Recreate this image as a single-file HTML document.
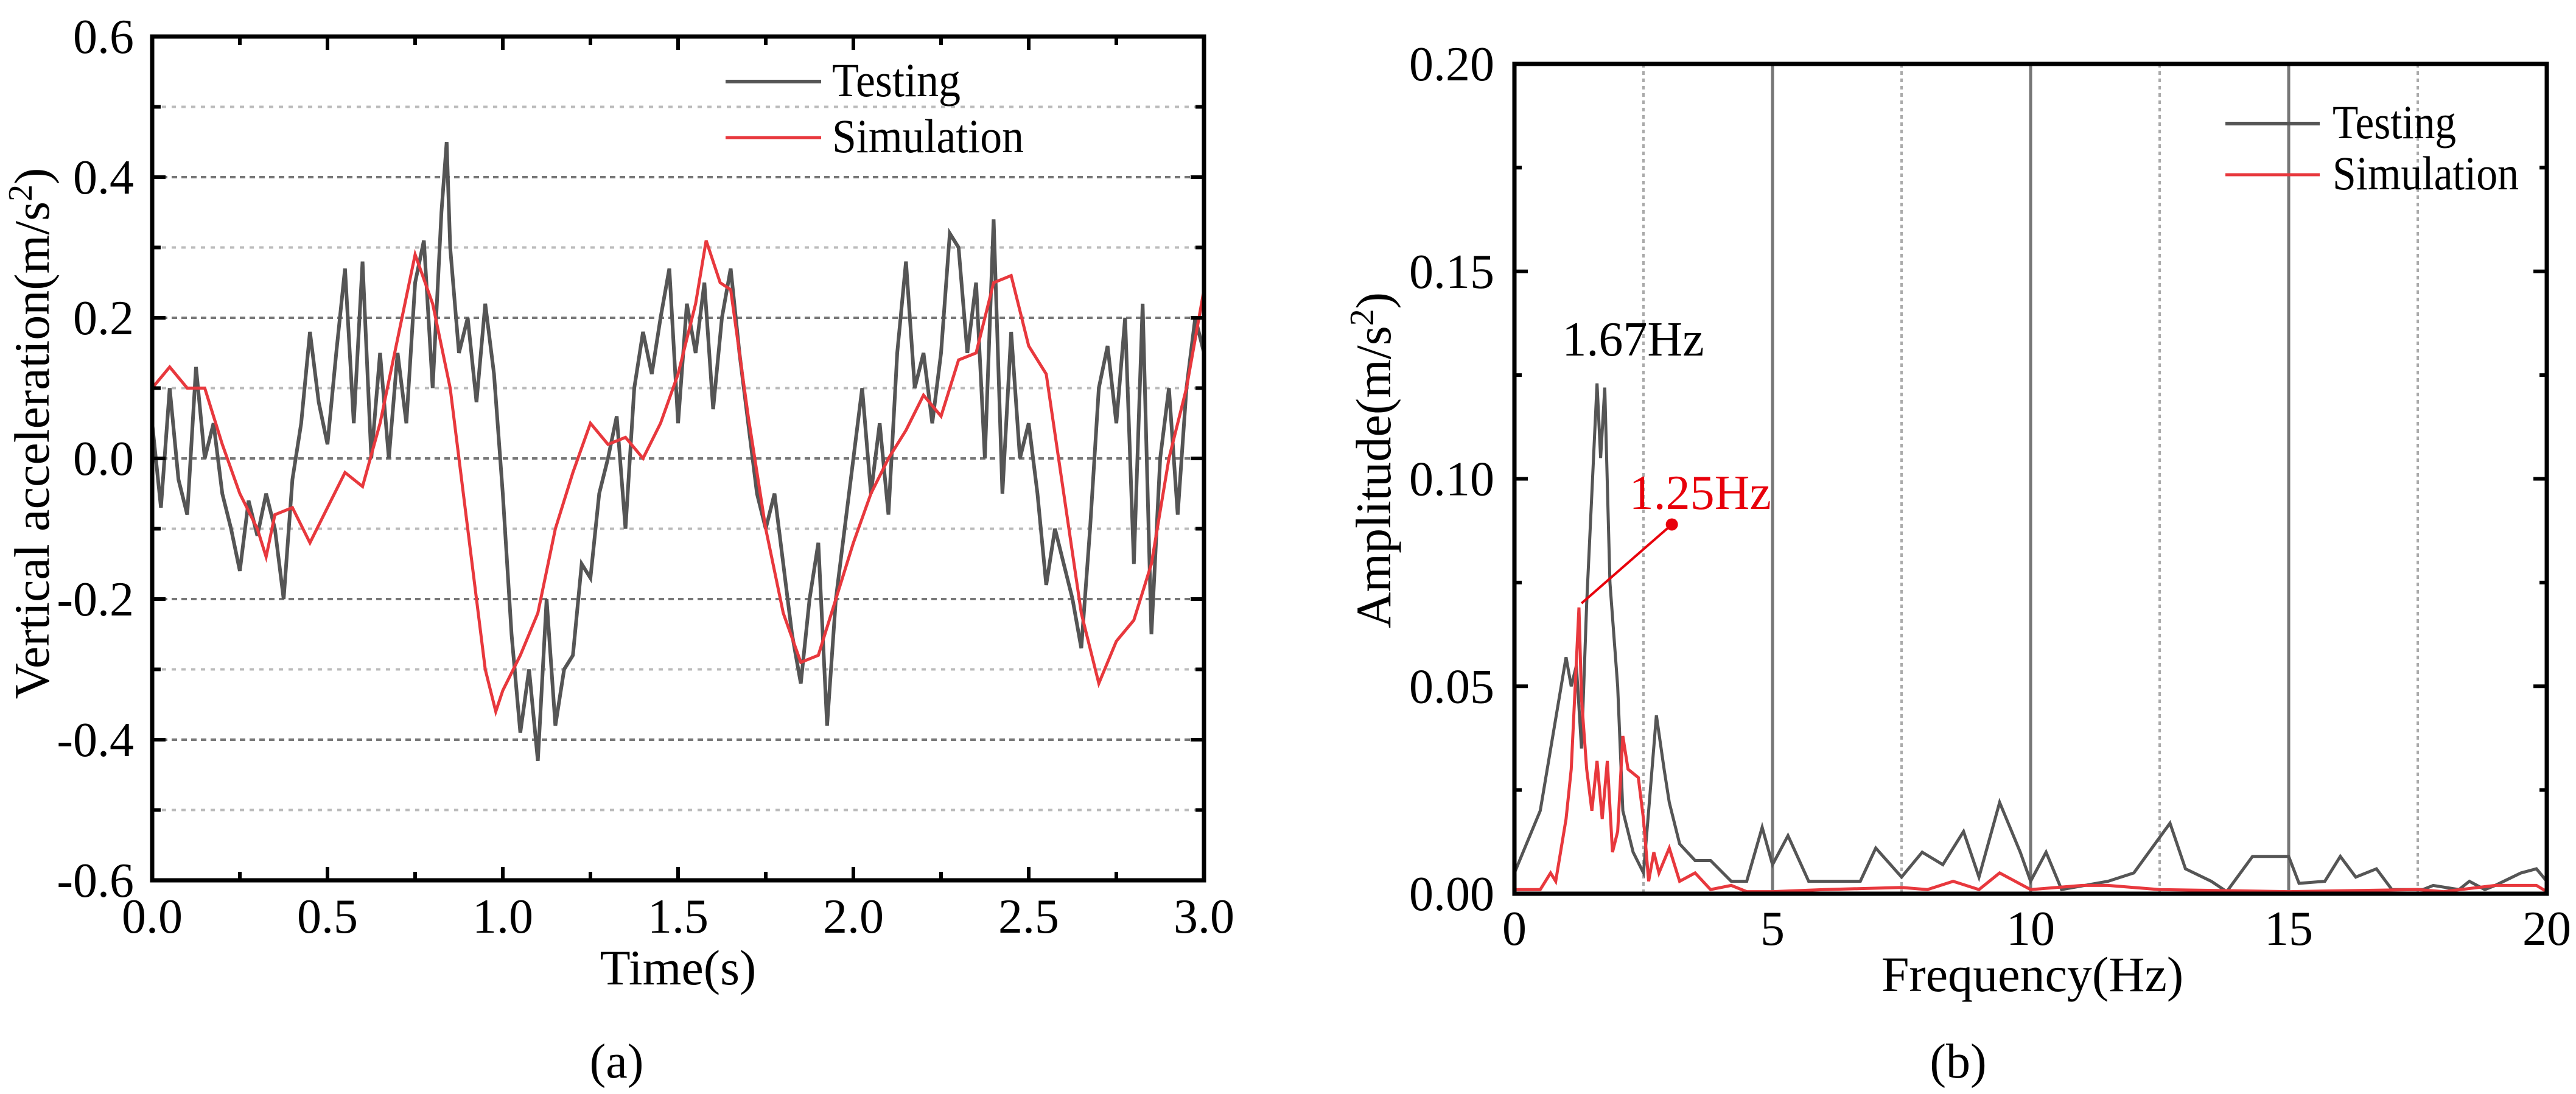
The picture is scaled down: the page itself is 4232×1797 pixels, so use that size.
<!DOCTYPE html>
<html><head><meta charset="utf-8"><style>
html,body{margin:0;padding:0;background:#fff;}
svg{display:block;}
text{font-family:"Liberation Serif",serif;}
</style></head><body>
<svg id="fig" width="4232" height="1797" viewBox="0 0 4232 1797" xmlns="http://www.w3.org/2000/svg"></svg>
<script>
// ---- Chart (a) data ----
const timeA = [0,0.025,0.05,0.075,0.1,0.125,0.15,0.175,0.2,0.225,0.25,0.275,0.3,0.325,0.35,0.375,0.4,0.425,0.45,0.475,0.5,0.525,0.55,0.575,0.6,0.625,0.65,0.675,0.7,0.725,0.75,0.775,0.8,0.825,0.84,0.85,0.875,0.9,0.925,0.95,0.975,1.0,1.025,1.05,1.075,1.1,1.125,1.15,1.175,1.2,1.225,1.25,1.275,1.3,1.325,1.35,1.375,1.4,1.425,1.45,1.475,1.5,1.525,1.55,1.575,1.6,1.625,1.65,1.675,1.7,1.725,1.75,1.775,1.8,1.825,1.85,1.875,1.9,1.925,1.95,1.975,2.0,2.025,2.05,2.075,2.1,2.125,2.15,2.175,2.2,2.225,2.25,2.275,2.3,2.325,2.35,2.375,2.4,2.425,2.45,2.475,2.5,2.525,2.55,2.575,2.6,2.625,2.65,2.675,2.7,2.725,2.75,2.775,2.8,2.825,2.85,2.875,2.9,2.925,2.95,2.975,3.0];
const testingA = [0.05,-0.07,0.10,-0.03,-0.08,0.13,0.00,0.05,-0.05,-0.10,-0.16,-0.06,-0.11,-0.05,-0.10,-0.20,-0.03,0.05,0.18,0.08,0.02,0.15,0.27,0.05,0.28,0.00,0.15,0.00,0.15,0.05,0.25,0.31,0.10,0.35,0.45,0.30,0.15,0.20,0.08,0.22,0.12,-0.05,-0.25,-0.39,-0.30,-0.43,-0.20,-0.38,-0.30,-0.28,-0.15,-0.17,-0.05,0.00,0.06,-0.10,0.10,0.18,0.12,0.20,0.27,0.05,0.22,0.15,0.25,0.07,0.20,0.27,0.15,0.05,-0.05,-0.10,-0.05,-0.15,-0.25,-0.32,-0.20,-0.12,-0.38,-0.20,-0.10,0.00,0.10,-0.05,0.05,-0.08,0.15,0.28,0.10,0.15,0.05,0.15,0.32,0.30,0.15,0.25,0.00,0.34,-0.05,0.18,0.00,0.05,-0.05,-0.18,-0.10,-0.15,-0.20,-0.27,-0.10,0.10,0.16,0.05,0.20,-0.15,0.22,-0.25,0.00,0.10,-0.08,0.10,0.20,0.15];
const timeSim = [0,0.05,0.1,0.15,0.2,0.25,0.3,0.325,0.35,0.4,0.45,0.5,0.55,0.6,0.65,0.7,0.75,0.8,0.85,0.9,0.95,0.98,1.0,1.05,1.1,1.15,1.2,1.25,1.3,1.35,1.4,1.45,1.5,1.55,1.58,1.62,1.65,1.7,1.75,1.8,1.85,1.9,1.95,2.0,2.05,2.1,2.15,2.2,2.25,2.3,2.35,2.4,2.45,2.5,2.55,2.6,2.65,2.7,2.75,2.8,2.85,2.9,2.95,3.0];
const simulationA = [0.10,0.13,0.10,0.10,0.02,-0.05,-0.10,-0.14,-0.08,-0.07,-0.12,-0.07,-0.02,-0.04,0.05,0.17,0.29,0.22,0.10,-0.10,-0.30,-0.36,-0.33,-0.28,-0.22,-0.10,-0.02,0.05,0.02,0.03,0.00,0.05,0.12,0.22,0.31,0.25,0.24,0.06,-0.10,-0.22,-0.29,-0.28,-0.20,-0.12,-0.05,0.00,0.04,0.09,0.06,0.14,0.15,0.25,0.26,0.16,0.12,-0.05,-0.22,-0.32,-0.26,-0.23,-0.15,0.00,0.10,0.24];
const xTicksA = ["0.0","0.5","1.0","1.5","2.0","2.5","3.0"];
const yTicksA = ["-0.6","-0.4","-0.2","0.0","0.2","0.4","0.6"];
// ---- Chart (b) data ----
const freqT = [0,0.5,1.0,1.1,1.2,1.3,1.4,1.6,1.67,1.75,1.85,2.0,2.1,2.3,2.5,2.6,2.75,2.9,3.0,3.2,3.5,3.8,4.2,4.5,4.8,5.0,5.3,5.7,6.2,6.7,7.0,7.5,7.9,8.3,8.7,9.0,9.4,9.8,10.0,10.3,10.6,11.5,12.0,12.7,13.0,13.5,13.8,14.3,15.0,15.2,15.7,16.0,16.3,16.7,17.0,17.6,17.8,18.3,18.5,18.8,19.0,19.5,19.8,20];
const testingB = [0.005,0.02,0.057,0.05,0.055,0.035,0.07,0.123,0.105,0.122,0.075,0.05,0.02,0.01,0.005,0.02,0.043,0.03,0.022,0.012,0.008,0.008,0.003,0.003,0.016,0.007,0.014,0.003,0.003,0.003,0.011,0.004,0.010,0.007,0.015,0.004,0.022,0.010,0.003,0.010,0.001,0.003,0.005,0.017,0.006,0.003,0.0005,0.009,0.009,0.0025,0.003,0.009,0.004,0.006,0.001,0.001,0.002,0.001,0.003,0.001,0.002,0.005,0.006,0.003];
const freqS = [0,0.5,0.7,0.8,1.0,1.1,1.25,1.3,1.4,1.5,1.6,1.7,1.8,1.9,2.0,2.1,2.2,2.4,2.5,2.6,2.7,2.8,3.0,3.2,3.5,3.8,4.2,4.5,5.0,6.0,7.5,8.0,8.5,9.0,9.4,10.0,11.0,11.5,12.5,15,17.5,18,19,19.8,20];
const simulationB = [0.001,0.001,0.005,0.003,0.018,0.03,0.069,0.047,0.03,0.02,0.032,0.018,0.032,0.01,0.015,0.038,0.03,0.028,0.018,0.003,0.01,0.005,0.011,0.003,0.005,0.001,0.002,0.0005,0.0005,0.001,0.0015,0.001,0.003,0.001,0.005,0.001,0.002,0.002,0.001,0.0005,0.001,0.0005,0.002,0.002,0.0005];
const xTicksB = ["0","5","10","15","20"];
const yTicksB = ["0.00","0.05","0.10","0.15","0.20"];

const NS = "http://www.w3.org/2000/svg";
const svg = document.getElementById('fig');
function mk(tag, attrs, parent){const e=document.createElementNS(NS,tag);for(const k in attrs)e.setAttribute(k,attrs[k]);(parent||svg).appendChild(e);return e;}
function txt(s, attrs, parent){const e=mk('text',attrs,parent);e.textContent=s;return e;}

// ===== Chart A =====
const A={x0:250,x1:1978,y0:60,y1:1446,xmin:0,xmax:3,ymin:-0.6,ymax:0.6};
const xA=v=>A.x0+(v-A.xmin)/(A.xmax-A.xmin)*(A.x1-A.x0);
const yA=v=>A.y1-(v-A.ymin)/(A.ymax-A.ymin)*(A.y1-A.y0);
const gA=mk('g',{});


for(let i=1;i<12;i++){const v=-0.6+i*0.1;if(Math.abs(i-6)%2===0){
  const l=mk('line',{x1:A.x0,x2:A.x1,y1:yA(v),y2:yA(v),stroke:'#777',"stroke-width":4,"stroke-dasharray":"9 7"},gA);
  
 }else{
  const l=mk('line',{x1:A.x0,x2:A.x1,y1:yA(v),y2:yA(v),stroke:'#bbb',"stroke-width":4,"stroke-dasharray":"7 9"},gA);
  
 }}
function poly(xs,ys,fx,fy,color,w,name,parent){
  let d='';for(let i=0;i<xs.length;i++)d+=(i?'L':'M')+fx(xs[i]).toFixed(1)+','+fy(ys[i]).toFixed(1);
  const p=mk('path',{d:d,fill:'none',stroke:color,"stroke-width":w,"stroke-linejoin":"miter"},parent);
  return p;}
poly(timeA,testingA,xA,yA,'#555',6,'testing-line-a',gA);
poly(timeSim,simulationA,xA,yA,'#e8383d',5,'simulation-line-a',gA);
const fa=mk('rect',{x:A.x0,y:A.y0,width:A.x1-A.x0,height:A.y1-A.y0,fill:'none',stroke:'#000',"stroke-width":7},gA);

for(let i=0;i<=12;i++){const v=i*0.25,x=xA(v),len=(i%2===0)?22:14;
  mk('line',{x1:x,x2:x,y1:A.y1,y2:A.y1-len,stroke:'#000',"stroke-width":6},gA);
  mk('line',{x1:x,x2:x,y1:A.y0,y2:A.y0+len,stroke:'#000',"stroke-width":6},gA);}
for(let i=0;i<=12;i++){const v=-0.6+i*0.1,y=yA(v),len=(i%2===0)?22:14;
  mk('line',{x1:A.x0,x2:A.x0+len,y1:y,y2:y,stroke:'#000',"stroke-width":6},gA);
  mk('line',{x1:A.x1,x2:A.x1-len,y1:y,y2:y,stroke:'#000',"stroke-width":6},gA);}
xTicksA.forEach((s,i)=>{const t=txt(s,{x:xA(i*0.5),y:1532,"font-size":80,"text-anchor":"middle",fill:'#000'},gA);
  });
yTicksA.forEach((s,i)=>{const t=txt(s,{x:220,y:yA(-0.6+i*0.2)+27,"font-size":80,"text-anchor":"end",fill:'#000'},gA);
  });
const xtA=txt('Time(s)',{x:1114,y:1617,"font-size":82,"text-anchor":"middle",fill:'#000'},gA);

const ytA=mk('text',{x:0,y:0,"font-size":82,"text-anchor":"middle",fill:'#000',transform:"translate(80,712) rotate(-90)"},gA);
ytA.innerHTML='Vertical acceleration(m/s<tspan dy="-28" font-size="56">2</tspan><tspan dy="28">)</tspan>';

const lgA=mk('g',{},gA);
mk('line',{x1:1192,x2:1349,y1:134,y2:134,stroke:'#555',"stroke-width":6},lgA);
txt('Testing',{x:1367,y:158,"font-size":78,fill:'#000',textLength:211,lengthAdjust:'spacingAndGlyphs'},lgA);
mk('line',{x1:1192,x2:1349,y1:226,y2:226,stroke:'#e8383d',"stroke-width":5},lgA);
txt('Simulation',{x:1367,y:250,"font-size":78,fill:'#000',textLength:315,lengthAdjust:'spacingAndGlyphs'},lgA);
const la=txt('(a)',{x:1013,y:1770,"font-size":80,"text-anchor":"middle",fill:'#000'});


// ===== Chart B =====
const B={x0:2488,x1:4184,y0:105,y1:1468,xmin:0,xmax:20,ymin:0,ymax:0.2};
const xB=v=>B.x0+(v-B.xmin)/(B.xmax-B.xmin)*(B.x1-B.x0);
const yB=v=>B.y1-(v-B.ymin)/(B.ymax-B.ymin)*(B.y1-B.y0);
const gB=mk('g',{});


[2.5,7.5,12.5,17.5].forEach(v=>{const l=mk('line',{x1:xB(v),x2:xB(v),y1:B.y0,y2:B.y1,stroke:'#aaa',"stroke-width":4,"stroke-dasharray":"6 6"},gB);
  });
[5,10,15].forEach(v=>{const l=mk('line',{x1:xB(v),x2:xB(v),y1:B.y0,y2:B.y1,stroke:'#777',"stroke-width":5},gB);
  });
poly(freqT,testingB,xB,yB,'#555',5,'testing-line-b',gB);
poly(freqS,simulationB,xB,yB,'#e8383d',5,'simulation-line-b',gB);
const fb=mk('rect',{x:B.x0,y:B.y0,width:B.x1-B.x0,height:B.y1-B.y0,fill:'none',stroke:'#000',"stroke-width":7},gB);

for(let i=0;i<=8;i++){const y=yB(i*0.025),len=(i%2===0)?22:12;
  mk('line',{x1:B.x0,x2:B.x0+len,y1:y,y2:y,stroke:'#000',"stroke-width":6},gB);
  mk('line',{x1:B.x1,x2:B.x1-len,y1:y,y2:y,stroke:'#000',"stroke-width":6},gB);}
xTicksB.forEach((s,i)=>{const t=txt(s,{x:xB(i*5),y:1552,"font-size":80,"text-anchor":"middle",fill:'#000'},gB);
  });
yTicksB.forEach((s,i)=>{const t=txt(s,{x:2455,y:yB(i*0.05)+27,"font-size":80,"text-anchor":"end",fill:'#000'},gB);
  });
const xtB=txt('Frequency(Hz)',{x:3339,y:1628,"font-size":82,"text-anchor":"middle",fill:'#000'},gB);

const ytB=mk('text',{x:0,y:0,"font-size":82,"text-anchor":"middle",fill:'#000',transform:"translate(2284,756) rotate(-90)"},gB);
ytB.innerHTML='Amplitude(m/s<tspan dy="-28" font-size="56">2</tspan><tspan dy="28">)</tspan>';

const a1=txt('1.67Hz',{x:xB(2.3),y:yB(0.1297),"font-size":80,"text-anchor":"middle",fill:'#000'},gB);

const a2=txt('1.25Hz',{x:xB(3.6),y:yB(0.0927),"font-size":80,"text-anchor":"middle",fill:'#e8000b'},gB);

const ar=mk('line',{x1:xB(1.3),y1:yB(0.07),x2:xB(3.05),y2:yB(0.089),stroke:'#e8000b',"stroke-width":4},gB);

const ah=mk('circle',{cx:xB(3.05),cy:yB(0.089),r:10,fill:'#e8000b'},gB);

const lgB=mk('g',{},gB);
mk('line',{x1:3656,x2:3811,y1:203,y2:203,stroke:'#555',"stroke-width":6},lgB);
txt('Testing',{x:3832,y:227,"font-size":78,fill:'#000',textLength:203,lengthAdjust:'spacingAndGlyphs'},lgB);
mk('line',{x1:3656,x2:3811,y1:287,y2:287,stroke:'#e8383d',"stroke-width":5},lgB);
txt('Simulation',{x:3832,y:311,"font-size":78,fill:'#000',textLength:306,lengthAdjust:'spacingAndGlyphs'},lgB);
const lb=txt('(b)',{x:3217,y:1770,"font-size":80,"text-anchor":"middle",fill:'#000'});

</script>
</body></html>
